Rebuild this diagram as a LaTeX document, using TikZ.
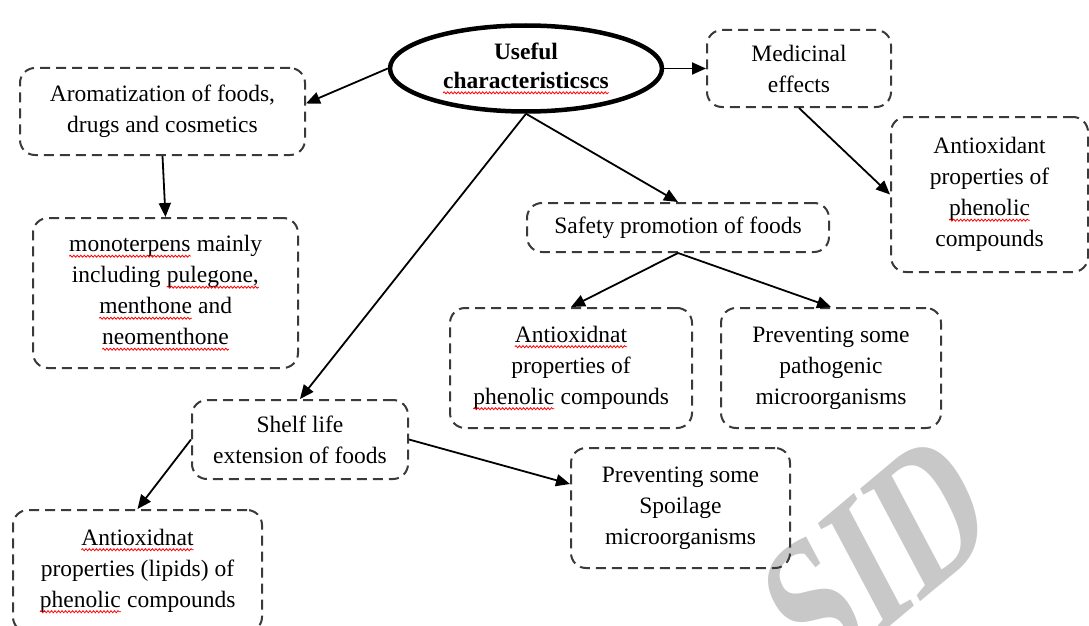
\documentclass[tikz,border=0pt]{standalone}
\usepackage{fontspec}
\setmainfont{Liberation Serif}
\usetikzlibrary{arrows.meta,shapes.geometric,decorations.pathmorphing}
\definecolor{boxgray}{HTML}{3A3A3A}
\definecolor{wmgray}{HTML}{C8C8C8}
\newcommand\sq[1]{\tikz[baseline=(sqw.base)]{\node[rectangle,draw=none,fill=none,inner sep=0pt,outer sep=0pt,minimum width=0pt,minimum height=0pt,anchor=base](sqw){#1};\draw[red,solid,sharp corners,line width=0.8pt,decorate,decoration={snake,amplitude=1pt,segment length=3.5pt}]([yshift=-4.5pt]sqw.base west)--([yshift=-4.5pt]sqw.base east);}}
\begin{document}
\begin{tikzpicture}[x=1pt,y=1pt,
  box/.style={rectangle, draw=boxgray, line width=2pt, dash pattern=on 10pt off 6pt, rounded corners=15pt, inner sep=0pt, align=center, font=\fontsize{23.5}{31}\selectfont},
  conn/.style={draw=black, line width=1.8pt, -{Triangle[length=14pt,width=12pt]}}]
\useasboundingbox (0,0) rectangle (1089,-626);
% watermark
\begin{scope}[shift={(906,-613.6)}, cm={0.575,0.482,-0.469,0.883,(0,0)}]
  \node[transform shape, anchor=base, inner sep=0pt, text=wmgray, font=\bfseries\fontsize{195}{195}\selectfont] (wm) at (0,0) {SID};
\end{scope}
% nodes
\node[ellipse, draw=black, line width=4.5pt, minimum width=272pt, minimum height=86pt, inner sep=0pt, align=center, font=\bfseries\fontsize{23.5}{29}\selectfont] (main) at (526,-68.5) {Useful\\\sq{characteristicscs}};
\node[box, minimum width=184pt, minimum height=77pt] (med) at (799,-68.5) {Medicinal\\effects};
\node[box, minimum width=285pt, minimum height=87pt] (arom) at (162.5,-111.5) {Aromatization of foods,\\drugs and cosmetics};
\node[box, minimum width=265pt, minimum height=150pt] (mono) at (165.5,-293) {\sq{monoterpens} mainly\\including \sq{pulegone,}\\\sq{menthone} and\\\sq{neomenthone}};
\node[box, minimum width=197pt, minimum height=155pt] (antiR) at (989.5,-194.5) {Antioxidant\\properties of\\\sq{phenolic}\\compounds};
\node[box, minimum width=302pt, minimum height=49pt] (safety) at (678,-227.5) {Safety promotion of foods};
\node[box, minimum width=242pt, minimum height=120pt] (antiM) at (571,-368) {\sq{Antioxidnat}\\properties of\\\sq{phenolic} compounds};
\node[box, minimum width=220pt, minimum height=120pt] (prevP) at (831,-368) {Preventing some\\pathogenic\\microorganisms};
\node[box, minimum width=216pt, minimum height=79pt] (shelf) at (300,-439.5) {Shelf life\\extension of foods};
\node[box, minimum width=249pt, minimum height=122pt] (antiL) at (137.5,-571) {\sq{Antioxidnat}\\properties (lipids) of\\\sq{phenolic} compounds};
\node[box, minimum width=219pt, minimum height=120pt] (prevS) at (680.5,-508) {Preventing some\\Spoilage\\microorganisms};
% connectors
\draw[conn] (main.west) -- ([yshift=8pt]arom.east);
\draw[conn] (main.east) -- (med.west);
\draw[conn] (arom.south) -- (mono.north);
\draw[conn] (med.south) -- (antiR.west);
\draw[conn] (main.south) -- (safety.north);
\draw[conn] (main.south) -- (shelf.north);
\draw[conn] (safety.south) -- (antiM.north);
\draw[conn] (safety.south) -- (prevP.north);
\draw[conn] (shelf.west) -- (antiL.north);
\draw[conn] (shelf.east) -- ([yshift=24pt]prevS.west);
\end{tikzpicture}
\end{document}
